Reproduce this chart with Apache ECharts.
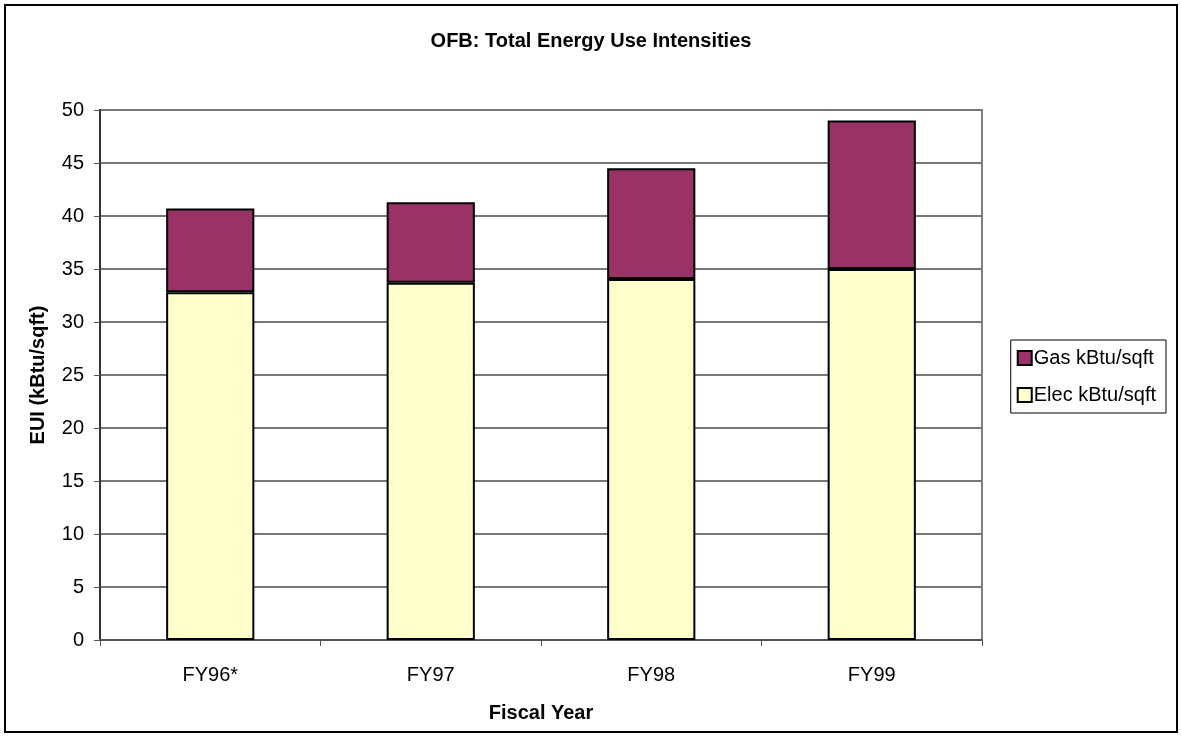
<!DOCTYPE html>
<html>
<head>
<meta charset="utf-8">
<script src="https://cdn.jsdelivr.net/npm/echarts@6/dist/echarts.min.js"></script>
<style>
  html, body { margin: 0; padding: 0; background: #fff; }
  #chart { width: 1182px; height: 737px; }
</style>
</head>
<body>
<div id="chart"></div>
<script>
const years = ["FY96*", "FY97", "FY98", "FY99"];
const elecValues = [32.8, 33.7, 34.05, 35.0];
const gasValues = [7.9, 7.6, 10.45, 14.0];
const yTicks = { min: 0, max: 50, step: 5 };

const chart = echarts.init(document.getElementById("chart"));

const barBorder = { borderColor: "#000", borderWidth: 2 };
const font = "Liberation Sans, Arial, sans-serif";

chart.setOption({
  backgroundColor: "#fff",
  animation: false,
  textStyle: { fontFamily: font },
  title: {
    text: "OFB: Total Energy Use Intensities",
    left: "center",
    top: 26,
    textStyle: { fontSize: 20, fontWeight: "bold", color: "#000", fontFamily: font }
  },
  graphic: [
    {
      type: "rect",
      shape: { x: 5, y: 5, width: 1172, height: 727 },
      style: { fill: "none", stroke: "#000", lineWidth: 2 },
      silent: true
    },
    {
      type: "rect",
      z: -1,
      shape: { x: 100, y: 110, width: 882, height: 530 },
      style: { fill: "none", stroke: "#808080", lineWidth: 2 },
      silent: true
    }
  ],
  legend: {
    right: 16,
    top: 340,
    orient: "vertical",
    itemWidth: 14,
    itemHeight: 14,
    itemGap: 17,
    padding: [8, 10, 8, 6],
    borderColor: "#000",
    borderWidth: 1,
    icon: "rect",
    textStyle: { fontSize: 20, color: "#000", fontFamily: font, padding: [0, 0, 0, -3] },
    data: [
      { name: "Gas kBtu/sqft", itemStyle: { color: "#993366", borderColor: "#000", borderWidth: 2 } },
      { name: "Elec kBtu/sqft", itemStyle: { color: "#FFFFCC", borderColor: "#000", borderWidth: 2 } }
    ]
  },
  grid: { left: 100, right: 200, top: 110, bottom: 97 },
  xAxis: {
    type: "category",
    data: years,
    name: "Fiscal Year",
    nameLocation: "middle",
    nameGap: 63,
    nameTextStyle: { fontSize: 20, fontWeight: "bold", color: "#000", fontFamily: font },
    axisLine: { lineStyle: { color: "#555", width: 2 } },
    axisTick: { show: true, length: 6, lineStyle: { color: "#555" } },
    axisLabel: { fontSize: 20, color: "#000", margin: 25, fontFamily: font }
  },
  yAxis: {
    type: "value",
    min: yTicks.min,
    max: yTicks.max,
    interval: yTicks.step,
    name: "EUI (kBtu/sqft)",
    nameLocation: "middle",
    nameGap: 52,
    nameRotate: 90,
    nameTextStyle: { fontSize: 20, fontWeight: "bold", color: "#000", fontFamily: font },
    axisLine: { show: true, lineStyle: { color: "#333", width: 2 } },
    axisTick: { show: true, length: 6, lineStyle: { color: "#555" } },
    axisLabel: { fontSize: 20, color: "#000", margin: 16, fontFamily: font },
    splitLine: { lineStyle: { color: "#777", width: 2 } }
  },
  series: [
    {
      name: "Elec kBtu/sqft",
      type: "bar",
      stack: "eui",
      barCategoryGap: "60%",
      data: elecValues,
      itemStyle: Object.assign({ color: "#FFFFCC" }, barBorder)
    },
    {
      name: "Gas kBtu/sqft",
      type: "bar",
      stack: "eui",
      barCategoryGap: "60%",
      data: gasValues,
      itemStyle: Object.assign({ color: "#993366" }, barBorder)
    }
  ]
});
</script>
</body>
</html>
